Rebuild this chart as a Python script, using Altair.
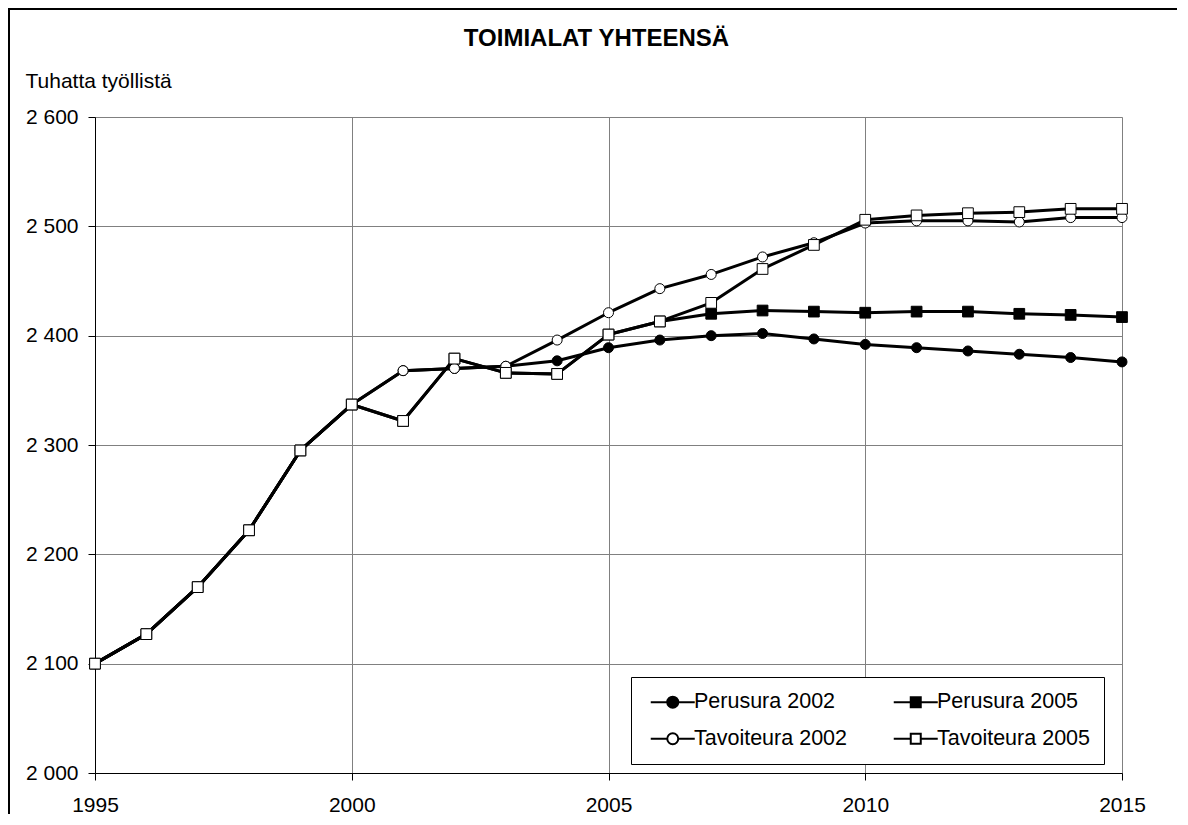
import altair as alt
import pandas as pd

FONT = "Liberation Sans"

years = list(range(1995, 2016))
common = [2100, 2127, 2170, 2222, 2295, 2337]

perusura_2002 = common + [2368, 2370, 2372, 2377, 2389, 2396, 2400, 2402, 2397,
                          2392, 2389, 2386, 2383, 2380, 2376]
perusura_2005 = common + [2322, 2379, 2366, 2365, 2401, 2413, 2420, 2423, 2422,
                          2421, 2422, 2422, 2420, 2419, 2417]
tavoiteura_2002 = common + [2368, 2370, 2372, 2396, 2421, 2443, 2456, 2472, 2485,
                            2503, 2505, 2505, 2504, 2508, 2508]
tavoiteura_2005 = common + [2322, 2379, 2366, 2365, 2401, 2413, 2430, 2461, 2483,
                            2506, 2510, 2512, 2513, 2516, 2516]

series_names = ["Perusura 2002", "Perusura 2005", "Tavoiteura 2002", "Tavoiteura 2005"]
series_values = [perusura_2002, perusura_2005, tavoiteura_2002, tavoiteura_2005]
series_shapes = ["circle", "square", "circle", "square"]
series_fills = ["black", "black", "white", "white"]

rows = []
for name, vals in zip(series_names, series_values):
    for yr, v in zip(years, vals):
        rows.append({"year": yr, "value": v, "series": name})
df = pd.DataFrame(rows)

W, H = 1027, 656
PAD = {"left": 87, "top": 109, "right": 56, "bottom": 41}

x_enc = alt.X(
    "year:Q",
    scale=alt.Scale(domain=[1995, 2015], nice=False, zero=False),
    axis=alt.Axis(
        values=[1995, 2000, 2005, 2010, 2015], format="d", title=None,
        grid=True, gridColor="#808080", gridWidth=1,
        domainColor="black", tickColor="black", tickSize=7,
        labelFontSize=21, labelFont=FONT, labelColor="black", labelPadding=14,
        labelFlush=False, labelOverlap=False,
    ),
)
y_enc = alt.Y(
    "value:Q",
    scale=alt.Scale(domain=[2000, 2600], nice=False, zero=False),
    axis=alt.Axis(
        values=list(range(2000, 2601, 100)),
        labelExpr="replace(format(datum.value, ','), ',', ' ')",
        title="Tuhatta työllistä", titleAngle=0, titleX=-70, titleY=-36,
        titleAlign="left", titleBaseline="middle", titleFontWeight="normal",
        titleFontSize=21, titleFont=FONT, titleColor="black",
        grid=True, gridColor="#808080", gridWidth=1,
        domainColor="black", tickColor="black", tickSize=7,
        labelFontSize=21, labelFont=FONT, labelColor="black", labelPadding=10,
        labelOverlap=False,
    ),
)

layers = []

# outer chart frame (top and left edges; the others fall outside the page)
frame_src = alt.Chart(alt.Data(values=[{"a": 1}]))
frame_top = frame_src.mark_rule(color="black", strokeWidth=2).encode(
    x=alt.value(-87), x2=alt.value(W + PAD["right"] - 1), y=alt.value(-108)
)
frame_left = frame_src.mark_rule(color="black", strokeWidth=2).encode(
    x=alt.value(-86), y=alt.value(-109), y2=alt.value(H + 60)
)
layers += [frame_top, frame_left]

base = alt.Chart(df)
for name, shp, fl in zip(series_names, series_shapes, series_fills):
    sub = base.transform_filter(alt.datum.series == name)
    line = sub.mark_line(color="black", strokeWidth=3, strokeJoin="round").encode(
        x=x_enc, y=y_enc
    )
    pts = sub.mark_point(
        shape=shp, filled=True, fill=fl, stroke="black", strokeWidth=1,
        size=100 if shp == "circle" else 115, opacity=1,
    ).encode(x=x_enc, y=y_enc)
    layers += [line, pts]

circle_path = "M-4.4,0H-1.1M1.1,0H4.4M1.1,0A1.1,1.1,0,1,1,-1.1,0A1.1,1.1,0,1,1,1.1,0Z"
square_path = "M-4.4,0H-1M1,0H4.4M-1,-1H1V1H-1Z"
legend_paths = [circle_path, square_path, circle_path, square_path]

leg = alt.Legend(
    title=None, orient="none", legendX=536, legendY=560, columns=2,
    direction="horizontal",
    strokeColor="black", fillColor="white", padding=14, cornerRadius=0,
    labelFont=FONT, labelFontSize=21.5, labelColor="black",
    symbolSize=100, symbolStrokeWidth=2, symbolStrokeColor="black",
    symbolOffset=17, labelOffset=10.5, rowPadding=14, columnPadding=41,
    symbolOpacity=1,
)
legend_layer = base.transform_filter(alt.datum.value < 0).mark_point(
    filled=True, strokeWidth=2, opacity=1, size=100
).encode(
    x=x_enc, y=y_enc,
    shape=alt.Shape("series:N", scale=alt.Scale(domain=series_names, range=legend_paths), legend=leg),
    fill=alt.Fill("series:N", scale=alt.Scale(domain=series_names, range=series_fills), legend=leg),
    stroke=alt.Stroke("series:N", scale=alt.Scale(domain=series_names, range=["black"] * 4), legend=leg),
)
layers.append(legend_layer)

chart = alt.layer(*layers).properties(
    width=W, height=H,
    title=alt.TitleParams(
        "TOIMIALAT YHTEENSÄ", fontSize=24, fontWeight="bold", font=FONT,
        color="black", anchor="middle", dx=-12, dy=48,
    ),
    autosize=alt.AutoSizeParams(type="none"),
    padding=PAD,
).configure_view(stroke=None).configure(background="white")

chart.save("out.html", embed_options={"renderer": "svg", "actions": False})
